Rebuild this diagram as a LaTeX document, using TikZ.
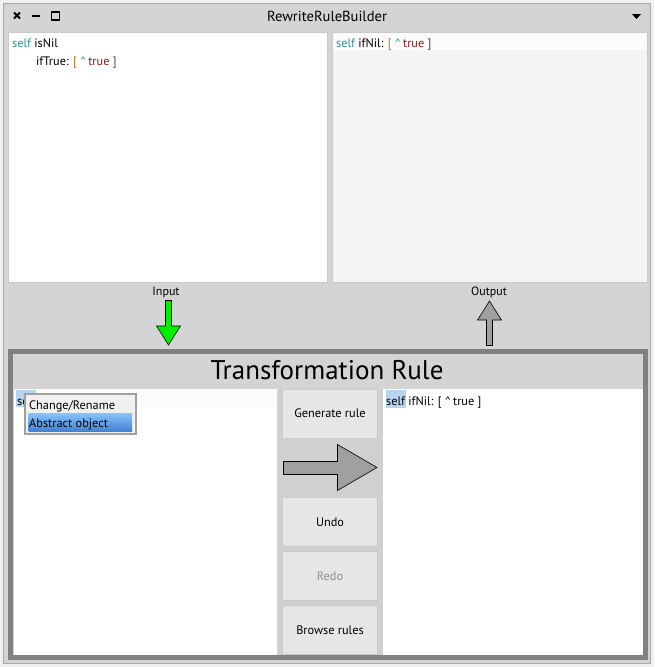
\documentclass[tikz,border=0pt]{standalone}
\usepackage{fontspec}
\setmainfont{PT Sans}
\definecolor{winbg}{HTML}{D4D4D4}
\definecolor{outerbg}{HTML}{F0F0F0}
\definecolor{frame}{HTML}{A8A8A8}
\definecolor{panegray}{HTML}{F4F4F4}
\definecolor{rulegray}{HTML}{808080}
\definecolor{btnfill}{HTML}{E6E6E6}
\definecolor{btnline}{HTML}{CACACA}
\definecolor{colbg}{HTML}{D0D0D0}
\definecolor{selfc}{HTML}{2E9494}
\definecolor{brk}{HTML}{D07020}
\definecolor{truec}{HTML}{8B1C1C}
\definecolor{closec}{HTML}{404060}
\definecolor{hilite}{HTML}{B8D4EE}
\definecolor{menubg}{HTML}{F0F0F0}
\definecolor{menuline}{HTML}{A0A0A0}
\definecolor{seltop}{HTML}{86C2FA}
\definecolor{selbot}{HTML}{4282D2}
\definecolor{greenarrow}{HTML}{00F000}
\definecolor{grayarrow}{HTML}{A0A0A0}
\definecolor{redogray}{HTML}{909090}
\newcommand{\caretsym}{\textasciicircum}
\tikzset{
  codetext/.style={anchor=base west, inner sep=0pt, font=\fontsize{12.3}{14}\selectfont},
  lbl/.style={inner sep=0pt, font=\fontsize{12}{14}\selectfont},
  btn/.style={draw=btnline, fill=btnfill, line width=0.8pt},
  btntext/.style={inner sep=0pt, font=\fontsize{12.3}{14}\selectfont},
  arrowshape/.style={draw=black, line width=0.6pt, line join=miter}
}
\begin{document}
\begin{tikzpicture}[x=1pt,y=-1pt]
\useasboundingbox (0,0) rectangle (654,667);
% outer background and window
\fill[outerbg] (0,0) rectangle (654,667);
\draw[frame, fill=winbg, line width=1pt] (3.5,3.5) rectangle (650.5,663.5);
% title bar
\node[lbl, font=\fontsize{14.6}{16}\selectfont] (title) at (327,16) {RewriteRuleBuilder};
\draw[line width=2pt] (14,12.5) -- (20,18.5) (20,12.5) -- (14,18.5);
\draw[line width=2pt] (32,16) -- (40,16);
\draw[line width=1.8pt] (51.5,12) rectangle (59.5,20);
\fill (632,14) -- (641,14) -- (636.5,19) -- cycle;
% top panes
\draw[fill=white, draw=btnline, line width=0.6pt] (8,32) rectangle (327,282);
\draw[fill=panegray, draw=btnline, line width=0.6pt] (332,32) rectangle (647,282);
\fill[white!60!panegray] (332.5,32.5) rectangle (646.5,50);
\node[codetext] (inl1) at (12,47) {\textcolor{selfc}{self} isNil};
\node[codetext] (inl2) at (36,65) {ifTrue: \textcolor{brk}{[} \textcolor{selfc}{\caretsym}\,\textcolor{truec}{true} \textcolor{closec}{]}};
\node[codetext] (outl1) at (336,47) {\textcolor{selfc}{self} ifNil: \textcolor{brk}{[} \textcolor{selfc}{\caretsym}\,\textcolor{truec}{true} \textcolor{closec}{]}};
% labels and arrows
\node[lbl] (input) at (166,292) {Input};
\node[lbl] (output) at (489,292) {Output};
\draw[arrowshape, fill=greenarrow] (165.5,300.5) -- (171.5,300.5) -- (171.5,326) -- (180.5,326) -- (168.5,345) -- (156.5,326) -- (165.5,326) -- cycle;
\draw[arrowshape, fill=grayarrow] (486.5,345.5) -- (492.5,345.5) -- (492.5,320) -- (501.5,320) -- (489.5,301) -- (477.5,320) -- (486.5,320) -- cycle;
% transformation rule frame
\draw[rulegray, fill=winbg, line width=5pt] (10.5,351.5) rectangle (645.5,657.5);
\node[lbl, font=\fontsize{27}{30}\selectfont] (trtitle) at (327,370) {Transformation Rule};
% left pane
\fill[white] (14,389) rectangle (277,654.5);
\fill[white!98.5!black] (14,389) rectangle (277,407);
\fill[hilite] (16,390) rectangle (36,407);
\node[codetext] (lefttxt) at (17,405) {se};
% popup menu
\draw[menuline, fill=menubg, line width=2pt] (25,393.5) rectangle (136,434);
\shade[top color=seltop, bottom color=selbot] (28.5,413.5) rectangle (132,431);
\node[codetext] (m1) at (29,409) {Change/Rename};
\node[codetext] (m2) at (29,427) {Abstract object};
% button column
\fill[colbg] (278,389) rectangle (382.5,654.5);
\draw[btn] (282.5,389.5) rectangle (377.5,438);
\node[btntext] (gen) at (330,413) {Generate rule};
\draw[arrowshape, fill=grayarrow] (283.5,461.5) -- (337.5,461.5) -- (337.5,444.5) -- (377,467.5) -- (337.5,490.5) -- (337.5,474.5) -- (283.5,474.5) -- cycle;
\draw[btn] (282.5,497.5) rectangle (377.5,546.5);
\node[btntext] (undo) at (330,522) {Undo};
\draw[btn] (282.5,551.5) rectangle (377.5,600.5);
\node[btntext, text=redogray] (redo) at (330,576) {Redo};
\draw[btn] (282.5,605.5) rectangle (377.5,654.5);
\node[btntext] (browse) at (330,630) {Browse rules};
% right pane
\fill[white] (383,389) rectangle (643,654.5);
\fill[hilite] (386,390) rectangle (406,408);
\node[codetext] (righttxt) at (386,405) {self ifNil: [ \caretsym\,true ]};
\end{tikzpicture}
\end{document}
